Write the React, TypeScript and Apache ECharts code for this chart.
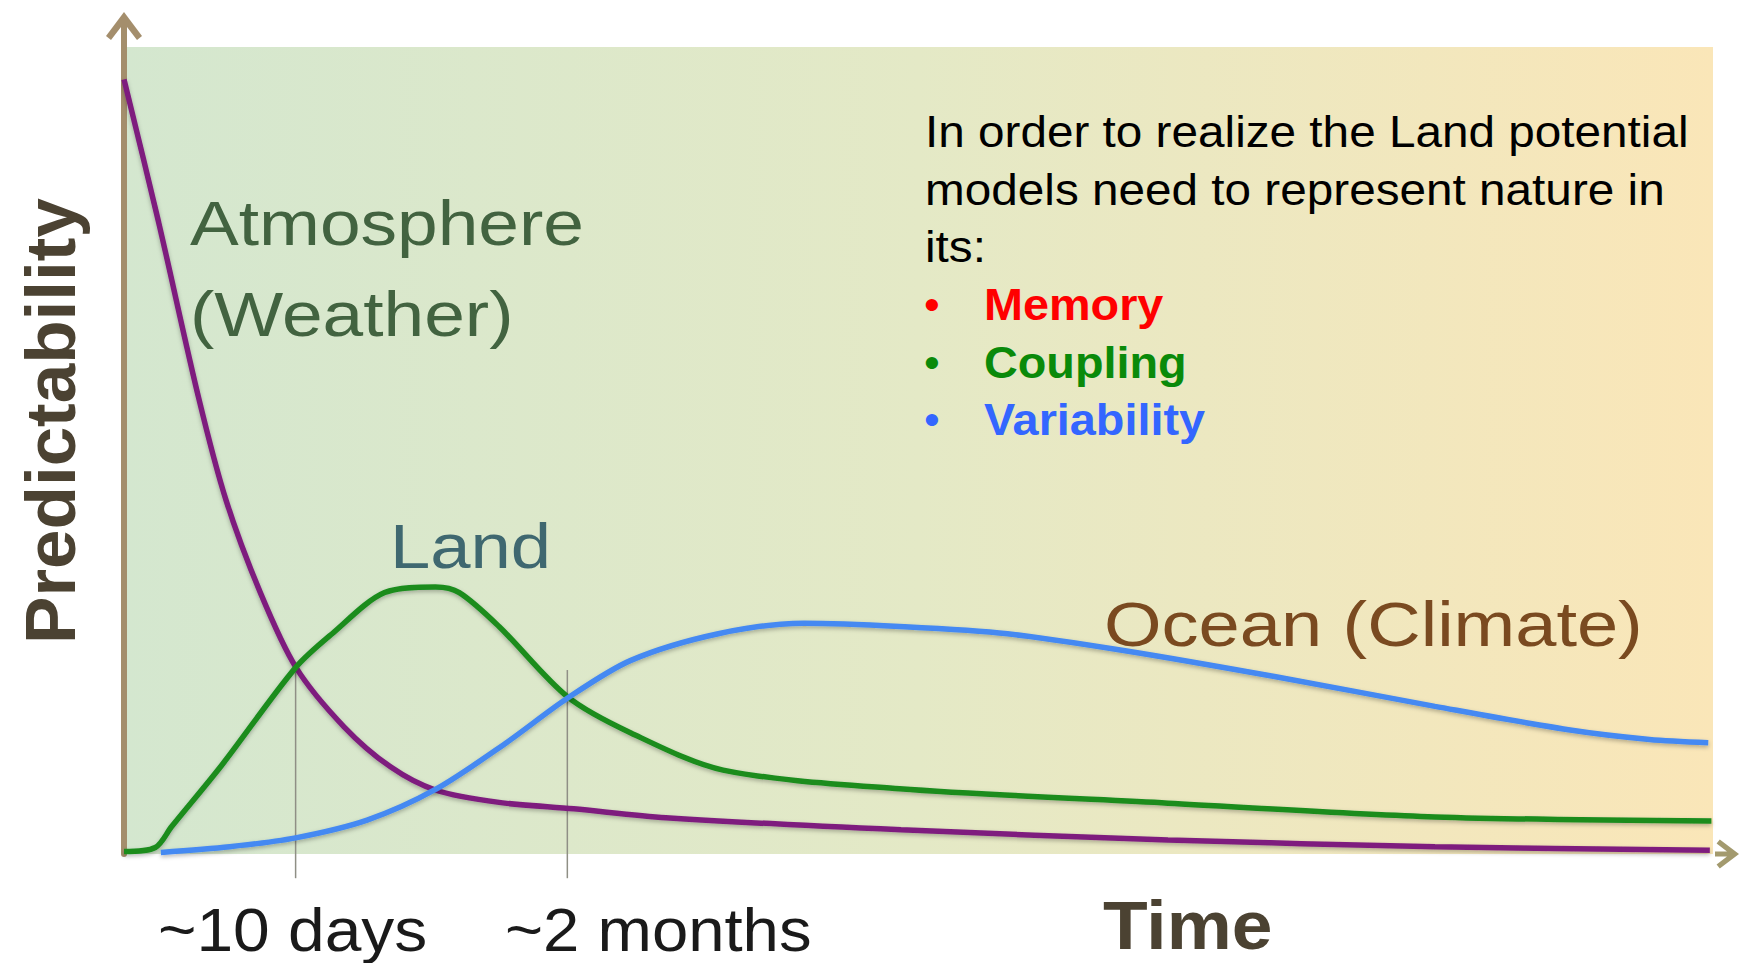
import React, { useEffect, useRef } from "react";
import * as echarts from "echarts";

// ---- data (time on an abstract 0..100 scale, predictability 0..100) ----
const atmosphere: [number, number][] = [
  [0, 96], [2.18, 78.3], [4.69, 56.6], [6.43, 43.8], [8.6, 32.3], [10.83, 23.1],
  [13.83, 15.8], [16.77, 10.8], [19.63, 7.9], [23.6, 6.4], [28.3, 5.6], [34.1, 4.5],
  [48.9, 3.0], [65.7, 1.75], [82.5, 0.9], [99.8, 0.45],
];
const land: [number, number][] = [
  [0, 0.3], [1.97, 0.8], [3.0, 3.4], [6.15, 11.0], [10.8, 23.1], [13.1, 27.3],
  [16.4, 32.4], [19.6, 33.1], [21.1, 32.4], [23.6, 28.2], [27.9, 19.5], [31.9, 15.0],
  [37.7, 10.4], [48.8, 8.1], [65.7, 6.3], [82.5, 4.6], [99.9, 4.1],
];
const ocean: [number, number][] = [
  [2.32, 0.2], [6.65, 0.9], [10.8, 2.0], [15.3, 4.2], [19.6, 8.0], [24.0, 13.7],
  [27.9, 19.3], [31.9, 24.0], [37.4, 27.3], [42.8, 28.6], [48.8, 28.2], [55.6, 27.3],
  [63.0, 25.2], [72.4, 22.0], [82.5, 18.3], [90.9, 15.4], [96.0, 14.2], [99.7, 13.8],
];
const tenDaysMarker: [number, number][] = [[10.8, 23.7], [10.8, -3]];
const twoMonthsMarker: [number, number][] = [[27.9, 22.8], [27.9, -3]];

const curveNames = ["Atmosphere", "(Weather)", "Land", "Ocean (Climate)"];
const tickLabels = ["~10 days", "~2 months"];
const xAxisName = "Time";
const yAxisName = "Predictability";
const noteLines = [
  "In order to realize the Land potential",
  "models need to represent nature in",
  "its:",
];
const noteItems = ["Memory", "Coupling", "Variability"];
const noteItemColors = ["#ff0000", "#0a8a0a", "#3366ff"];

const FF = '"Liberation Sans", Arial, Helvetica, sans-serif';
const ARROW =
  "path://M18,0 L36,24 L31,28 L21,15 L21,30 L15,30 L15,15 L5,28 L0,24 Z";

function txt(
  text: string,
  x: number,
  y: number,
  size: number,
  color: string,
  o: { bold?: boolean; scaleX?: number; align?: string; rotation?: number } = {}
) {
  const font = `${o.bold ? "bold " : ""}${size}px ${FF}`;
  return {
    type: "text",
    x,
    y,
    scaleX: o.scaleX ?? 1,
    rotation: o.rotation ?? 0,
    z: 50,
    silent: true,
    style: {
      text,
      font,
      lineHeight: size,
      fill: color,
      textAlign: o.align ?? "left",
      textVerticalAlign: "middle",
      align: o.align ?? "left",
      verticalAlign: "middle",
    },
  };
}

export default function App() {
  const ref = useRef<HTMLDivElement>(null);

  useEffect(() => {
    document.body.style.margin = "0";
    document.body.style.overflow = "hidden";
    if (!ref.current) return;
    const chart = echarts.init(ref.current, null, { renderer: "svg" });

    const lineShadow = {
      shadowColor: "rgba(0,0,0,0.28)",
      shadowBlur: 4,
      shadowOffsetY: 2,
    };

    const graphic: any[] = [
      {
        type: "rect",
        z: -10,
        silent: true,
        shape: { x: 124, y: 47, width: 1589, height: 807 },
        style: {
          fill: {
            type: "linear",
            x: 0,
            y: 0,
            x2: 1,
            y2: 0,
            colorStops: [
              { offset: 0, color: "#d4e7cf" },
              { offset: 0.5, color: "#e4e9c6" },
              { offset: 1, color: "#fae6b8" },
            ],
          },
        },
      },
      txt(curveNames[0], 190, 222.5, 63, "#426340", { scaleX: 1.16 }),
      txt(curveNames[1], 190, 314, 63, "#426340", { scaleX: 1.16 }),
      txt(curveNames[2], 390, 546.5, 63, "#3f6870", { scaleX: 1.15 }),
      txt(curveNames[3], 1104, 624, 63, "#7a4a20", { scaleX: 1.175 }),
      txt(yAxisName, 50, 421, 71, "#4b4232", {
        bold: true,
        align: "center",
        rotation: Math.PI / 2,
      }),
      txt(tickLabels[0], 158, 930, 61, "#1a1a1a", { scaleX: 1.08 }),
      txt(tickLabels[1], 505, 930, 61, "#1a1a1a", { scaleX: 1.07 }),
      txt(xAxisName, 1103, 925, 69, "#4b4232", { bold: true, scaleX: 1.06 }),
    ];
    const noteMids = [131, 189, 246, 304, 362, 419];
    noteLines.forEach((l, i) =>
      graphic.push(txt(l, 925, noteMids[i], 45, "#000000", { scaleX: 1.06 }))
    );
    noteItems.forEach((l, i) => {
      graphic.push(txt("\u2022", 924, noteMids[3 + i], 45, noteItemColors[i]));
      graphic.push(
        txt(l, 984, noteMids[3 + i], 45, noteItemColors[i], { bold: true, scaleX: 1.04 })
      );
    });

    const lineSeries = (name: string, data: [number, number][], color: string, z: number) => ({
      type: "line",
      name,
      data,
      smooth: 0.3,
      symbol: "none",
      clip: false,
      z,
      lineStyle: { color, width: 5.5, ...lineShadow },
    });

    const option: any = {
      animation: false,
      backgroundColor: "#ffffff",
      grid: { left: 124, right: 12, top: 27, bottom: 109, containLabel: false },
      xAxis: {
        type: "value",
        min: 0,
        max: 100.88,
        axisLine: {
          show: true,
          onZero: false,
          symbol: ["none", ARROW],
          symbolSize: [30, 24],
          lineStyle: {
            color: "#a39a6e",
            width: 6,
            shadowColor: "rgba(0,0,0,0.45)",
            shadowBlur: 5,
            shadowOffsetY: 4,
          },
        },
        axisTick: { show: false },
        axisLabel: { show: false },
        splitLine: { show: false },
      },
      yAxis: {
        type: "value",
        min: 0,
        max: 102.5,
        axisLine: {
          show: true,
          onZero: false,
          symbol: ["none", ARROW],
          symbolSize: [36, 30],
          lineStyle: { color: "#a48e6c", width: 6 },
        },
        axisTick: { show: false },
        axisLabel: { show: false },
        splitLine: { show: false },
      },
      series: [
        {
          type: "line",
          data: tenDaysMarker,
          clip: false,
          symbol: "none",
          silent: true,
          z: 1,
          lineStyle: { color: "#8f8f85", width: 1.5 },
        },
        {
          type: "line",
          data: twoMonthsMarker,
          clip: false,
          symbol: "none",
          silent: true,
          z: 1,
          lineStyle: { color: "#8f8f85", width: 1.5 },
        },
        lineSeries("Atmosphere (Weather)", atmosphere, "#7e1e7e", 3),
        lineSeries("Land", land, "#1a8c1f", 4),
        lineSeries("Ocean (Climate)", ocean, "#4489f2", 5),
      ],
      graphic,
    };

    chart.setOption(option);
    return () => chart.dispose();
  }, []);

  return (
    <div
      ref={ref}
      style={{ width: 1739, height: 963, position: "absolute", left: 0, top: 0 }}
    />
  );
}
